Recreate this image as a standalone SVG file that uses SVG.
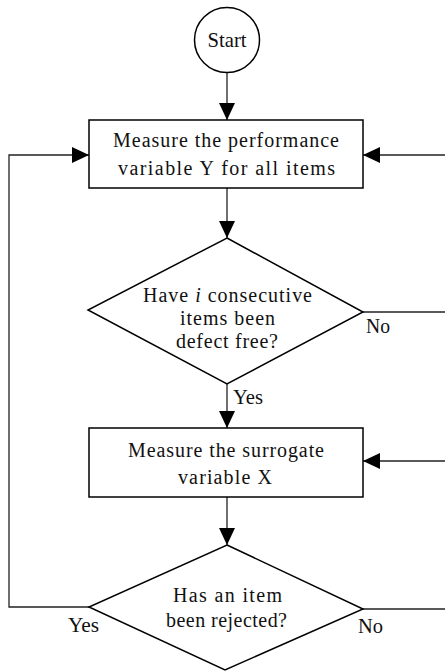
<svg xmlns="http://www.w3.org/2000/svg" width="445" height="672" viewBox="0 0 445 672">
<style>
.node{fill:#fff;stroke:#000;stroke-width:1.5}
.edge{fill:none;stroke:#222;stroke-width:1.3}
text{font-family:"Liberation Serif","Times New Roman",serif;font-size:20px;fill:#111;text-anchor:middle}
.lbl{text-anchor:start}
</style>
<defs>
<marker id="ah" markerUnits="userSpaceOnUse" markerWidth="17" markerHeight="16" refX="17" refY="8" orient="auto">
<path d="M0,0 L17,8 L0,16 z" fill="#000"/>
</marker>
</defs>
<g id="connectors">
<line class="edge" x1="227" y1="72" x2="227" y2="120" marker-end="url(#ah)"/>
<line class="edge" x1="227" y1="188" x2="227" y2="238" marker-end="url(#ah)"/>
<line class="edge" x1="227" y1="384" x2="227" y2="428" marker-end="url(#ah)"/>
<line class="edge" x1="227" y1="497" x2="227" y2="545" marker-end="url(#ah)"/>
<polyline class="edge" points="89,607 9,607 9,155 89,155" marker-end="url(#ah)"/>
<line class="edge" x1="445" y1="155" x2="363" y2="155" marker-end="url(#ah)"/>
<line class="edge" x1="363" y1="312" x2="445" y2="312"/>
<line class="edge" x1="445" y1="461" x2="363" y2="461" marker-end="url(#ah)"/>
<line class="edge" x1="363" y1="609" x2="445" y2="609"/>
<text class="lbl" x="366" y="333" textLength="24" lengthAdjust="spacingAndGlyphs">No</text>
<text class="lbl" x="233" y="404" textLength="30" lengthAdjust="spacingAndGlyphs">Yes</text>
<text class="lbl" x="68" y="632" textLength="31" lengthAdjust="spacingAndGlyphs">Yes</text>
<text class="lbl" x="358" y="633" textLength="25" lengthAdjust="spacingAndGlyphs">No</text>
</g>
<g id="start">
<circle class="node" cx="227" cy="40" r="32.5"/>
<text x="227" y="47" textLength="39" lengthAdjust="spacingAndGlyphs" style="font-size:22px">Start</text>
</g>
<g id="measureY">
<rect class="node" x="89" y="120" width="274" height="68"/>
<text x="226" y="147" textLength="226" lengthAdjust="spacing">Measure the performance</text>
<text x="226.5" y="175" textLength="217" lengthAdjust="spacing">variable Y for all items</text>
</g>
<g id="defectFree">
<polygon class="node" points="227,238 363,312 227,384 88,310"/>
<text x="227.5" y="302" textLength="169" lengthAdjust="spacing">Have <tspan font-style="italic">i</tspan> consecutive</text>
<text x="227.5" y="325" textLength="95" lengthAdjust="spacing">items been</text>
<text x="227" y="348" textLength="102" lengthAdjust="spacing">defect free?</text>
</g>
<g id="measureX">
<rect class="node" x="89" y="428" width="274" height="69"/>
<text x="226" y="457" textLength="196" lengthAdjust="spacing">Measure the surrogate</text>
<text x="225" y="484" textLength="94" lengthAdjust="spacing">variable X</text>
</g>
<g id="rejected">
<polygon class="node" points="227,545 363,609 225,670 89,607"/>
<text x="227.5" y="602" textLength="109" lengthAdjust="spacing">Has an item</text>
<text x="226.5" y="627" textLength="121" lengthAdjust="spacing">been rejected?</text>
</g>
</svg>
